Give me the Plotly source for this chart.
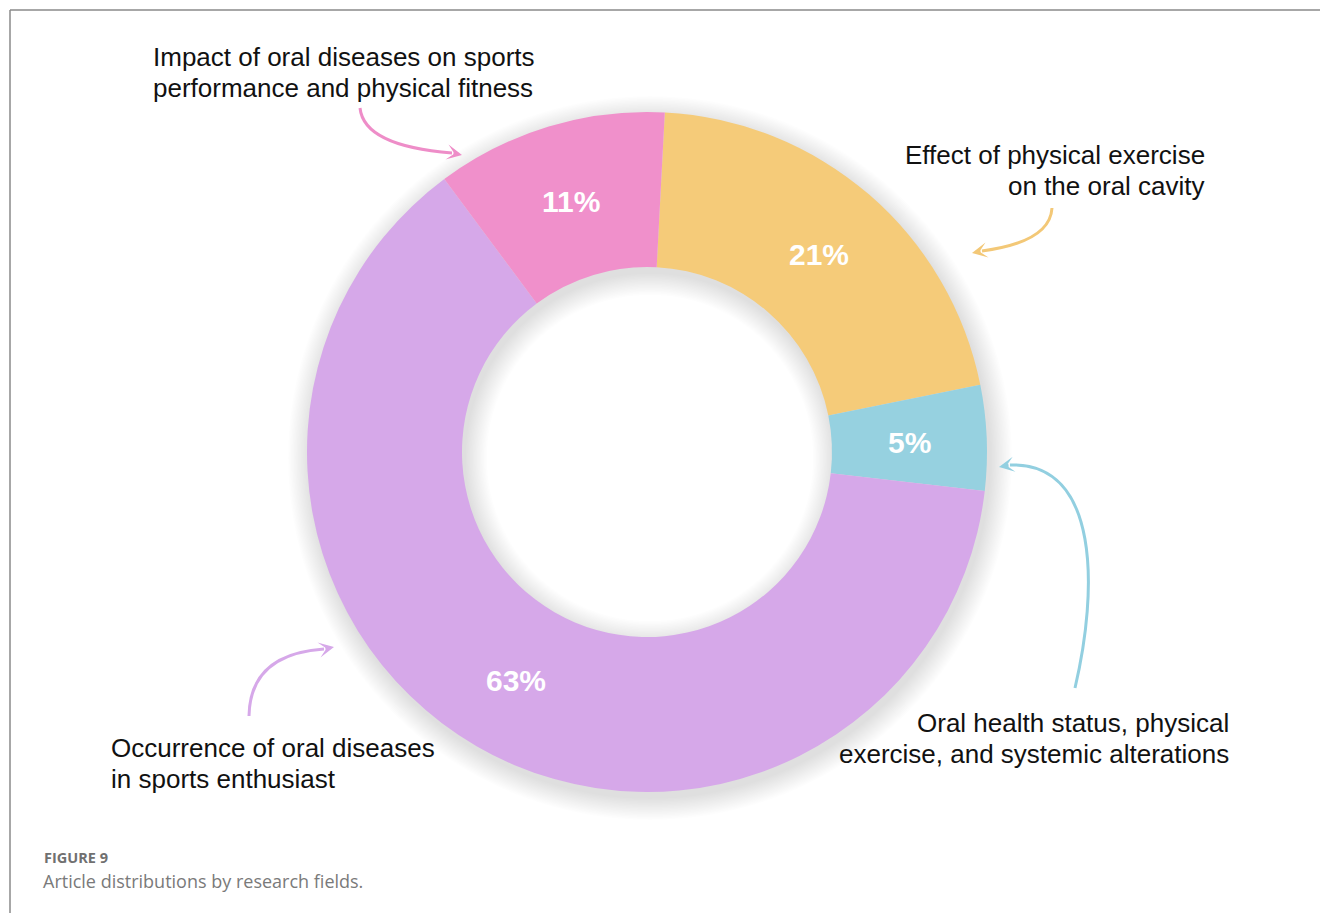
import numpy as np
import plotly.graph_objects as go

W, H = 1320, 913

# Research fields and their share of articles (%)
fields = [
    "Effect of physical exercise<br>on the oral cavity",
    "Oral health status, physical<br>exercise, and systemic alterations",
    "Occurrence of oral diseases<br>in sports enthusiast",
    "Impact of oral diseases on sports<br>performance and physical fitness",
]
shares = [21, 5, 63, 11]
colors = ["#F5CB79", "#96D1E0", "#D6A8E9", "#F090CB"]

caption_title = "FIGURE 9"
caption_text = "Article distributions by research fields."

# donut geometry in pixels
CX, CY, R_OUT, R_IN = 647, 452, 340, 185
ROTATION = 3

FONT = "Arial"
LINE_GAP = 31


def px(x):
    return x / W


def py(y):
    return 1 - y / H


def ring_path(cx, cy, r_out, r_in, n=180):
    t = np.linspace(0, 2 * np.pi, n, endpoint=False)
    outer = [(cx + r_out * np.cos(a), cy + r_out * np.sin(a)) for a in t]
    inner = [(cx + r_in * np.cos(a), cy - r_in * np.sin(a)) for a in t]
    def poly(pts):
        return "M " + " L ".join(f"{px(x):.5f},{py(y):.5f}" for x, y in pts) + " Z"
    return poly(outer) + " " + poly(inner)


fig = go.Figure()

fig.add_trace(go.Pie(
    labels=[f.replace("<br>", " ") for f in fields],
    values=shares,
    marker=dict(colors=colors, line=dict(width=0)),
    hole=R_IN / R_OUT,
    sort=False,
    direction="clockwise",
    rotation=ROTATION,
    textinfo="none",
    hoverinfo="skip",
    showlegend=False,
    domain=dict(x=[px(CX - R_OUT), px(CX + R_OUT)], y=[py(CY + R_OUT), py(CY - R_OUT)]),
))

shapes = []
# soft drop shadow of the ring
DX, DY = 3, 6
for s in np.linspace(1, 22, 16):
    shapes.append(dict(
        type="path", xref="paper", yref="paper", layer="below",
        path=ring_path(CX + DX, CY + DY, R_OUT + s, max(R_IN - s, 1)),
        fillcolor="rgba(0,0,0,0.008)", line=dict(width=0),
    ))

# frame lines
shapes.append(dict(type="line", xref="paper", yref="paper",
                   x0=px(10), y0=py(10), x1=1, y1=py(10),
                   line=dict(color="#8a8a8a", width=1.5)))
shapes.append(dict(type="line", xref="paper", yref="paper",
                   x0=px(10), y0=py(10), x1=px(10), y1=0,
                   line=dict(color="#8a8a8a", width=1.5)))

# curved callout arrows: (start, control, end, color)
arrows = [
    ((360, 108), (364, 146), (452, 153), "#EE8DC8"),
    ((1052, 208), (1050, 242), (982, 251), "#F3C877"),
    ((249, 716), (250, 654), (324, 649), "#D6A8E9"),
]
for (x0, y0), (qx, qy), (x1, y1), c in arrows:
    shapes.append(dict(
        type="path", xref="paper", yref="paper",
        path=f"M {px(x0)},{py(y0)} Q {px(qx)},{py(qy)} {px(x1)},{py(y1)}",
        line=dict(color=c, width=3),
    ))
# blue arrow uses a cubic curve
shapes.append(dict(
    type="path", xref="paper", yref="paper",
    path=(f"M {px(1075)},{py(688)} C {px(1098)},{py(590)} {px(1100)},{py(462)} "
          f"{px(1010)},{py(465)}"),
    line=dict(color="#92CFE0", width=3),
))

annotations = []
heads = [((462, 155), (452, 153), "#EE8DC8"),
         ((972, 253), (982, 251), "#F3C877"),
         ((334, 647), (324, 649), "#D6A8E9"),
         ((999, 467), (1010, 465), "#92CFE0")]
for (tx, ty), (bx, by), c in heads:
    annotations.append(dict(
        x=px(tx), y=py(ty), xref="paper", yref="paper", text="",
        showarrow=True, ax=bx - tx, ay=by - ty, axref="pixel", ayref="pixel",
        arrowhead=3, arrowsize=0.85, arrowwidth=3, arrowcolor=c, standoff=0,
    ))

# percentage labels at the middle of each slice
r_mid = (R_OUT + R_IN) / 2
start = ROTATION
total = sum(shares)
for v in shares:
    sweep = 360 * v / total
    ang = np.radians(start + sweep / 2)
    lx = CX + r_mid * np.sin(ang)
    ly = CY - r_mid * np.cos(ang)
    annotations.append(dict(
        x=px(lx), y=py(ly + 1), xref="paper", yref="paper", text=f"{v}%",
        showarrow=False, xanchor="center", yanchor="middle",
        font=dict(family=FONT, size=30, color="white", weight="bold"),
    ))
    start += sweep

# field labels, one annotation per line for tighter leading
label_pos = [
    (1207, 155, "right"),
    (1231, 723, "right"),
    (109, 748, "left"),
    (151, 57, "left"),
]
for text, (x, y, al) in zip(fields, label_pos):
    for i, line in enumerate(text.split("<br>")):
        annotations.append(dict(
            x=px(x), y=py(y + i * LINE_GAP), xref="paper", yref="paper", text=line,
            showarrow=False, xanchor=al, yanchor="middle", align=al,
            font=dict(family=FONT, size=26, color="#111111"),
        ))

annotations.append(dict(
    x=px(42), y=py(857), xref="paper", yref="paper", text=caption_title,
    showarrow=False, xanchor="left", yanchor="middle",
    font=dict(family="Open Sans, sans-serif", size=14.5, color="#707070", weight="bold"),
))
annotations.append(dict(
    x=px(41), y=py(881), xref="paper", yref="paper", text=caption_text,
    showarrow=False, xanchor="left", yanchor="middle",
    font=dict(family="Open Sans, sans-serif", size=18, color="#7a7a7a"),
))

fig.update_layout(
    width=W, height=H,
    margin=dict(l=0, r=0, t=0, b=0),
    paper_bgcolor="white", plot_bgcolor="white",
    shapes=shapes, annotations=annotations,
    showlegend=False,
)

fig.write_html("out.html")
